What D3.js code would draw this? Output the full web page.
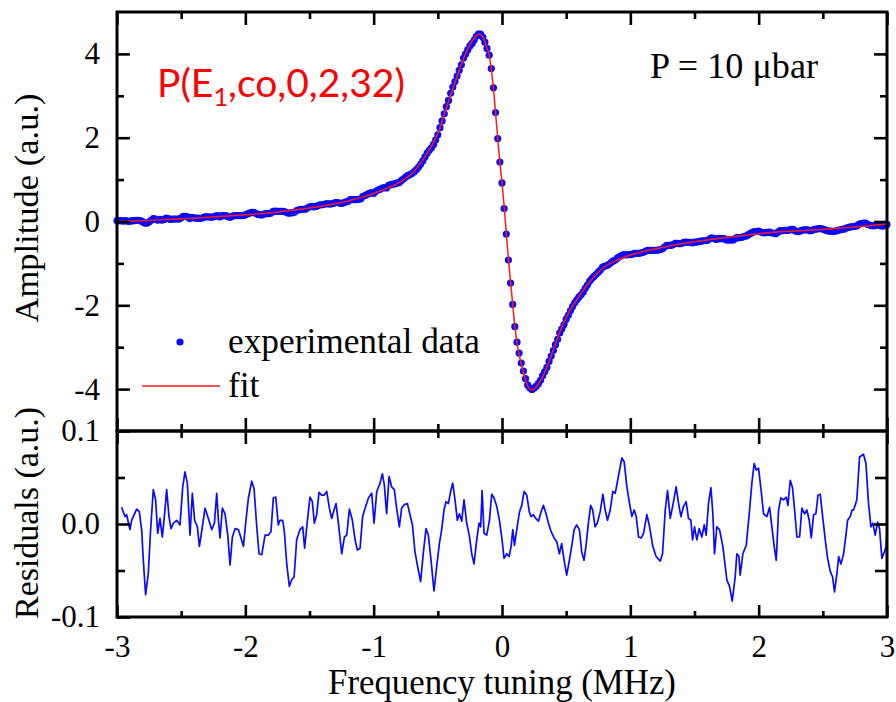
<!DOCTYPE html>
<html><head><meta charset="utf-8">
<script src="https://cdn.jsdelivr.net/npm/d3@7"></script>
<style>body{margin:0;background:#fff}svg{display:block}</style>
</head><body>
<svg id="chart" width="896" height="702"></svg>
<script>
// ---------- data ----------
const freqStart = -3, freqStep = 1 / 60;   // uniform sampling of the measured spectrum
const expAmplitude = [
 0.02,0.02,0.02,0.01,0.02,0.01,0.00,0.02,0.02,0.03,0.03,
 0.02,-0.01,-0.04,-0.04,-0.01,0.03,0.07,0.06,0.03,0.05,
 0.03,0.05,0.08,0.07,0.05,0.06,0.06,0.06,0.06,0.09,
 0.12,0.12,0.11,0.07,0.10,0.09,0.08,0.08,0.07,0.09,
 0.11,0.11,0.11,0.10,0.11,0.13,0.14,0.11,0.14,0.14,
 0.14,0.11,0.10,0.13,0.14,0.14,0.14,0.14,0.14,0.16,
 0.18,0.20,0.22,0.22,0.19,0.17,0.16,0.16,0.18,0.19,
 0.19,0.20,0.24,0.25,0.24,0.24,0.24,0.24,0.22,0.20,
 0.20,0.21,0.22,0.26,0.28,0.29,0.29,0.29,0.32,0.35,
 0.36,0.35,0.36,0.38,0.40,0.40,0.41,0.43,0.42,0.42,
 0.43,0.45,0.45,0.44,0.43,0.45,0.47,0.48,0.52,0.52,
 0.52,0.52,0.53,0.54,0.60,0.62,0.65,0.67,0.69,0.67,
 0.72,0.75,0.77,0.80,0.81,0.80,0.86,0.88,0.89,0.90,
 0.92,0.93,0.98,1.02,1.06,1.10,1.12,1.15,1.19,1.24,
 1.30,1.37,1.45,1.54,1.63,1.70,1.76,1.84,1.95,2.07,
 2.24,2.40,2.57,2.74,2.89,3.06,3.21,3.34,3.47,3.61,
 3.74,3.90,4.00,4.10,4.19,4.25,4.33,4.42,4.47,4.47,
 4.40,4.28,4.13,3.97,3.65,3.19,2.60,1.98,1.42,0.92,
 0.31,-0.30,-0.92,-1.47,-1.98,-2.51,-2.88,-3.14,-3.38,-3.57,
 -3.75,-3.90,-3.97,-4.01,-3.98,-3.93,-3.87,-3.79,-3.68,-3.58,
 -3.48,-3.34,-3.21,-3.08,-2.94,-2.81,-2.66,-2.56,-2.46,-2.33,
 -2.24,-2.13,-2.03,-1.94,-1.87,-1.80,-1.75,-1.68,-1.59,-1.51,
 -1.42,-1.36,-1.31,-1.26,-1.21,-1.16,-1.09,-1.07,-1.05,-1.02,
 -0.98,-0.94,-0.92,-0.87,-0.84,-0.81,-0.79,-0.80,-0.79,-0.79,
 -0.78,-0.76,-0.76,-0.76,-0.75,-0.74,-0.71,-0.69,-0.69,-0.69,
 -0.69,-0.69,-0.68,-0.67,-0.65,-0.61,-0.57,-0.57,-0.57,-0.55,
 -0.52,-0.52,-0.53,-0.52,-0.50,-0.49,-0.50,-0.50,-0.51,-0.49,
 -0.49,-0.48,-0.47,-0.46,-0.46,-0.45,-0.42,-0.39,-0.40,-0.43,
 -0.41,-0.41,-0.41,-0.41,-0.44,-0.44,-0.44,-0.44,-0.41,-0.38,
 -0.39,-0.38,-0.36,-0.35,-0.32,-0.29,-0.26,-0.24,-0.24,-0.23,
 -0.25,-0.27,-0.27,-0.26,-0.25,-0.27,-0.28,-0.29,-0.25,-0.22,
 -0.22,-0.21,-0.21,-0.21,-0.19,-0.19,-0.22,-0.24,-0.24,-0.21,
 -0.20,-0.20,-0.20,-0.22,-0.21,-0.19,-0.18,-0.17,-0.17,-0.18,
 -0.20,-0.22,-0.23,-0.23,-0.24,-0.23,-0.21,-0.20,-0.19,-0.18,
 -0.16,-0.14,-0.13,-0.12,-0.12,-0.10,-0.06,-0.05,-0.04,-0.04,
 -0.07,-0.09,-0.10,-0.10,-0.09,-0.08,-0.10,-0.11,-0.09,-0.07
];

const fitCurve = [
 [-3.0,0.00],[-2.8,0.02],[-2.6,0.05],[-2.4,0.08],[-2.2,0.12],[-2.0,0.16],[-1.8,0.21],
 [-1.6,0.28],[-1.4,0.37],[-1.2,0.49],[-1.1,0.57],[-1.0,0.67],[-0.9,0.79],[-0.8,0.93],
 [-0.7,1.15],[-0.6,1.55],[-0.55,1.80],[-0.5,2.10],[-0.45,2.56],[-0.4,3.02],[-0.35,3.46],
 [-0.3,3.88],[-0.25,4.22],[-0.2,4.43],[-0.18,4.47],[-0.16,4.44],[-0.14,4.35],[-0.12,4.17],
 [-0.10,3.97],[-0.08,3.55],[-0.06,2.95],[-0.04,2.22],[-0.02,1.52],[0.00,0.93],[0.02,0.25],
 [0.04,-0.55],[0.06,-1.22],[0.08,-1.87],[0.10,-2.50],[0.12,-2.96],[0.14,-3.27],[0.16,-3.53],
 [0.18,-3.76],[0.20,-3.92],[0.23,-4.02],[0.26,-3.97],[0.30,-3.80],[0.35,-3.48],[0.40,-3.06],
 [0.45,-2.64],[0.50,-2.29],[0.55,-2.02],[0.60,-1.79],[0.65,-1.57],[0.70,-1.38],[0.75,-1.21],
 [0.80,-1.08],[0.90,-0.92],[1.00,-0.80],[1.20,-0.65],[1.40,-0.53],[1.60,-0.44],[1.80,-0.36],
 [2.00,-0.29],[2.20,-0.24],[2.40,-0.21],[2.60,-0.17],[2.80,-0.12],[3.00,-0.06]
];

const residuals = [
 [-2.964,0.018],[-2.938,0.008],[-2.925,0.010],[-2.899,-0.006],[-2.886,0.004],[-2.847,0.016],
 [-2.826,0.013],[-2.808,-0.006],[-2.795,-0.039],[-2.777,-0.076],[-2.756,-0.053],[-2.738,-0.006],
 [-2.717,0.037],[-2.699,0.026],[-2.683,-0.010],[-2.665,0.006],[-2.647,-0.014],[-2.631,0.008],
 [-2.613,0.037],[-2.595,0.008],[-2.579,-0.005],[-2.561,0.001],[-2.535,0.004],[-2.509,-0.001],
 [-2.488,0.040],[-2.470,0.056],[-2.452,0.044],[-2.431,-0.012],[-2.413,0.033],[-2.395,0.004],
 [-2.374,-0.003],[-2.358,-0.024],[-2.338,-0.006],[-2.314,0.017],[-2.288,0.006],[-2.262,-0.006],
 [-2.241,0.001],[-2.223,0.033],[-2.210,0.004],[-2.197,-0.015],[-2.179,0.017],[-2.158,0.011],
 [-2.137,-0.012],[-2.119,-0.044],[-2.101,-0.014],[-2.080,-0.005],[-2.054,-0.006],[-2.036,-0.014],
 [-2.015,-0.024],[-1.995,0.004],[-1.976,0.028],[-1.950,0.046],[-1.932,0.038],[-1.911,-0.003],
 [-1.893,-0.032],[-1.872,-0.033],[-1.846,-0.012],[-1.821,-0.012],[-1.800,-0.008],[-1.782,0.028],
 [-1.763,0.029],[-1.743,-0.001],[-1.730,0.004],[-1.709,0.004],[-1.696,-0.008],[-1.678,-0.042],
 [-1.657,-0.067],[-1.639,-0.060],[-1.620,-0.057],[-1.600,-0.017],[-1.574,-0.006],[-1.553,-0.003],
 [-1.538,-0.026],[-1.517,0.003],[-1.496,0.029],[-1.478,0.024],[-1.462,0.001],[-1.444,0.010],
 [-1.426,0.034],[-1.405,0.031],[-1.387,0.031],[-1.366,0.035],[-1.345,0.017],[-1.327,0.006],
 [-1.309,0.015],[-1.293,0.022],[-1.275,0.001],[-1.249,-0.032],[-1.228,-0.014],[-1.210,-0.012],
 [-1.189,0.016],[-1.166,0.004],[-1.145,-0.017],[-1.127,-0.028],[-1.106,-0.026],[-1.086,0.008],
 [-1.067,0.017],[-1.041,0.028],[-1.015,0.033],[-0.997,0.001],[-0.976,0.035],[-0.950,0.044],
 [-0.932,0.054],[-0.917,0.042],[-0.899,0.011],[-0.880,0.051],[-0.860,0.040],[-0.839,0.037],
 [-0.821,0.017],[-0.800,-0.003],[-0.782,0.017],[-0.761,0.021],[-0.737,0.022],[-0.717,0.010],
 [-0.698,-0.001],[-0.678,-0.030],[-0.657,-0.046],[-0.634,-0.062],[-0.613,-0.031],[-0.592,-0.005],
 [-0.574,-0.012],[-0.553,-0.039],[-0.530,-0.072],[-0.509,-0.046],[-0.488,-0.021],[-0.470,-0.006],
 [-0.452,0.015],[-0.436,0.024],[-0.418,0.022],[-0.400,0.035],[-0.384,0.044],[-0.366,0.026],
 [-0.348,0.004],[-0.332,0.011],[-0.314,0.003],[-0.296,0.026],[-0.275,0.001],[-0.254,-0.013],
 [-0.236,-0.032],[-0.218,-0.043],[-0.197,-0.017],[-0.179,0.001],[-0.166,-0.003],[-0.155,0.036],
 [-0.140,-0.010],[-0.119,-0.012],[-0.098,0.004],[-0.080,0.032],[-0.062,0.028],[-0.041,0.019],
 [-0.020,0.004],[-0.002,-0.014],[0.016,-0.037],[0.037,-0.032],[0.055,-0.035],[0.071,-0.024],
 [0.084,-0.006],[0.097,-0.023],[0.115,-0.006],[0.136,0.013],[0.154,0.020],[0.172,0.035],
 [0.193,0.031],[0.213,0.013],[0.226,0.008],[0.245,0.010],[0.263,0.006],[0.284,0.003],
 [0.304,0.013],[0.323,0.020],[0.343,0.011],[0.362,0.001],[0.382,-0.008],[0.406,-0.015],
 [0.427,-0.019],[0.447,-0.032],[0.465,-0.021],[0.484,-0.039],[0.504,-0.055],[0.525,-0.039],
 [0.543,-0.024],[0.562,-0.006],[0.582,-0.001],[0.603,-0.006],[0.621,-0.030],[0.639,-0.039],
 [0.655,-0.023],[0.673,0.001],[0.691,0.020],[0.707,0.015],[0.725,-0.003],[0.743,0.001],
 [0.765,0.013],[0.786,0.032],[0.804,0.015],[0.822,0.004],[0.843,0.015],[0.864,0.035],
 [0.882,0.033],[0.900,0.046],[0.916,0.058],[0.934,0.071],[0.952,0.067],[0.973,0.040],
 [0.994,0.022],[1.012,0.008],[1.030,0.015],[1.046,0.008],[1.064,-0.014],[1.085,-0.015],
 [1.103,-0.010],[1.129,0.010],[1.150,-0.003],[1.175,-0.024],[1.201,-0.035],[1.233,-0.040],
 [1.251,-0.032],[1.272,0.015],[1.290,0.036],[1.311,0.006],[1.331,0.020],[1.357,0.040],
 [1.376,0.022],[1.394,0.008],[1.415,0.019],[1.435,0.024],[1.453,0.006],[1.472,0.004],
 [1.485,-0.017],[1.500,-0.003],[1.518,-0.017],[1.537,-0.005],[1.557,-0.014],[1.576,-0.001],
 [1.591,-0.012],[1.609,0.022],[1.628,0.039],[1.643,0.011],[1.656,-0.032],[1.674,-0.003],
 [1.695,-0.006],[1.721,-0.024],[1.752,-0.060],[1.773,-0.067],[1.794,-0.083],[1.817,-0.057],
 [1.830,-0.032],[1.846,-0.035],[1.856,-0.055],[1.877,-0.032],[1.903,-0.023],[1.926,0.010],
 [1.947,0.044],[1.965,0.065],[1.981,0.058],[1.999,0.060],[2.020,0.035],[2.038,0.011],
 [2.064,0.008],[2.085,0.018],[2.103,-0.003],[2.121,-0.024],[2.137,-0.039],[2.155,0.015],
 [2.173,0.028],[2.194,0.026],[2.215,0.029],[2.228,0.020],[2.246,0.047],[2.264,0.039],
 [2.280,0.015],[2.298,-0.014],[2.319,-0.014],[2.337,0.017],[2.358,0.011],[2.376,0.015],
 [2.394,0.004],[2.410,-0.015],[2.428,0.010],[2.446,0.011],[2.462,0.031],[2.480,0.032],
 [2.500,0.006],[2.519,-0.017],[2.537,-0.037],[2.558,-0.051],[2.576,-0.057],[2.591,-0.073],
 [2.610,-0.053],[2.623,-0.035],[2.641,-0.043],[2.662,-0.032],[2.680,-0.012],[2.693,0.004],
 [2.714,0.008],[2.727,0.015],[2.739,0.015],[2.747,0.018],[2.765,0.026],[2.786,0.072],
 [2.817,0.075],[2.836,0.065],[2.856,0.022],[2.875,-0.003],[2.890,0.001],[2.908,-0.012],
 [2.927,0.002],[2.942,-0.005],[2.960,-0.037],[2.979,-0.030],[2.994,-0.024],[3.000,-0.005]
];

const freqTicks = [-3, -2, -1, 0, 1, 2, 3];
const freqMinor = [-2.5, -1.5, -0.5, 0.5, 1.5, 2.5];
const ampTicks = [-4, -2, 0, 2, 4];
const ampMinor = [-3, -1, 1, 3];
const resTicks = [-0.1, 0.0, 0.1];
const resMinor = [-0.05, 0.05];

// ---------- layout ----------
const SERIF = "'Liberation Serif','Times New Roman',serif";
const svg = d3.select("#chart");
const x = d3.scaleLinear().domain([-3, 3]).range([117, 887]);
const yTop = d3.scaleLinear().domain([-5, 5]).range([431, 12]);
const yBot = d3.scaleLinear().domain([-0.1, 0.1]).range([617, 431]);

function axis(fn, scale, values, size, tr, fmt, pad) {
  const ax = fn(scale).tickValues(values).tickSize(-size).tickPadding(pad || 0)
    .tickFormat(fmt || (() => ""));
  const g = svg.append("g").attr("transform", tr).call(ax);
  g.select(".domain").remove();
  g.selectAll("line").attr("stroke", "#000").attr("stroke-width", 2.6);
  g.selectAll("text").attr("font-family", SERIF).attr("font-size", 31).attr("fill", "#000");
  return g;
}

// ---------- data marks ----------
const expData = expAmplitude.map((v, i) => [freqStart + i * freqStep, v]);

svg.append("g").selectAll("circle").data(expData).join("circle")
  .attr("cx", d => x(d[0])).attr("cy", d => yTop(d[1])).attr("r", 3.6)
  .attr("fill", "#0a0aff");

svg.append("path").datum(fitCurve)
  .attr("d", d3.line().x(d => x(d[0])).y(d => yTop(d[1])).curve(d3.curveMonotoneX))
  .attr("fill", "none").attr("stroke", "#ff1a1a").attr("stroke-width", 1.5);

svg.append("path").datum(residuals)
  .attr("d", d3.line().x(d => x(d[0])).y(d => yBot(d[1])))
  .attr("fill", "none").attr("stroke", "#0a0aff").attr("stroke-width", 1.7)
  .attr("stroke-linejoin", "round");

// ---------- frames ----------
svg.append("rect").attr("x", x(-3)).attr("y", yTop(5)).attr("width", x(3) - x(-3))
  .attr("height", yTop(-5) - yTop(5)).attr("fill", "none").attr("stroke", "#000").attr("stroke-width", 3);
svg.append("rect").attr("x", x(-3)).attr("y", yBot(0.1)).attr("width", x(3) - x(-3))
  .attr("height", yBot(-0.1) - yBot(0.1)).attr("fill", "none").attr("stroke", "#000").attr("stroke-width", 3);

// ---------- axes ----------
// top panel
axis(d3.axisLeft, yTop, ampTicks, 13, `translate(${x(-3)},0)`, v => String(v), 17);
axis(d3.axisLeft, yTop, ampMinor, 7, `translate(${x(-3)},0)`);
axis(d3.axisRight, yTop, ampTicks, 13, `translate(${x(3)},0)`);
axis(d3.axisRight, yTop, ampMinor, 7, `translate(${x(3)},0)`);
axis(d3.axisTop, x, freqTicks, 13, `translate(0,${yTop(5)})`);
axis(d3.axisTop, x, freqMinor, 7, `translate(0,${yTop(5)})`);
axis(d3.axisBottom, x, freqTicks, 13, `translate(0,${yTop(-5)})`);
axis(d3.axisBottom, x, freqMinor, 7, `translate(0,${yTop(-5)})`);
// bottom panel
axis(d3.axisLeft, yBot, resTicks, 13, `translate(${x(-3)},0)`, v => v.toFixed(1), 17);
axis(d3.axisLeft, yBot, resMinor, 8, `translate(${x(-3)},0)`);
axis(d3.axisRight, yBot, [0], 13, `translate(${x(3)},0)`);
axis(d3.axisRight, yBot, resMinor, 12, `translate(${x(3)},0)`);
axis(d3.axisTop, x, freqTicks, 13, `translate(0,${yBot(0.1)})`);
axis(d3.axisTop, x, freqMinor, 7, `translate(0,${yBot(0.1)})`);
axis(d3.axisBottom, x, freqTicks, 12, `translate(0,${yBot(-0.1)})`, v => String(v), 18);
axis(d3.axisBottom, x, freqMinor, 6, `translate(0,${yBot(-0.1)})`);

// ---------- titles ----------
function fitWidth(sel, w) {
  const cur = sel.node().getComputedTextLength();
  const fs = parseFloat(sel.attr("font-size"));
  sel.attr("font-size", (fs * w / cur).toFixed(2));
}
const xt = svg.append("text").attr("x", 502).attr("y", 694).attr("text-anchor", "middle")
  .attr("font-family", SERIF).attr("font-size", 34).attr("fill", "#000")
  .text("Frequency tuning (MHz)");
fitWidth(xt, 348);
const yt1 = svg.append("text").attr("transform", "translate(38,208) rotate(-90)")
  .attr("text-anchor", "middle").attr("font-family", SERIF).attr("font-size", 34).attr("fill", "#000")
  .text("Amplitude (a.u.)");
fitWidth(yt1, 229);
const yt2 = svg.append("text").attr("transform", "translate(38,513) rotate(-90)")
  .attr("text-anchor", "middle").attr("font-family", SERIF).attr("font-size", 34).attr("fill", "#000")
  .text("Residuals (a.u.)");
fitWidth(yt2, 212);

// annotations
const ann = svg.append("text").attr("x", 157).attr("y", 97)
  .attr("font-family", "Lato, 'Open Sans', sans-serif").attr("font-size", 34).attr("fill", "#ff0000");
ann.append("tspan").text("P(E");
ann.append("tspan").attr("font-size", "0.65em").attr("dy", 9).text("1");
ann.append("tspan").attr("dy", -9).text(",co,0,2,32)");
fitWidth(ann, 248);

const pt = svg.append("text").attr("x", 650).attr("y", 78)
  .attr("font-family", SERIF).attr("font-size", 34).attr("fill", "#000")
  .text("P = 10 \u03bcbar");
fitWidth(pt, 168);

// legend
svg.append("circle").attr("cx", 180).attr("cy", 342).attr("r", 3.6).attr("fill", "#0a0aff");
const lt1 = svg.append("text").attr("x", 228).attr("y", 353)
  .attr("font-family", SERIF).attr("font-size", 34).attr("fill", "#000").text("experimental data");
fitWidth(lt1, 252);
svg.append("line").attr("x1", 142).attr("x2", 220).attr("y1", 386).attr("y2", 386)
  .attr("stroke", "#ff1a1a").attr("stroke-width", 1.5);
svg.append("text").attr("x", 228).attr("y", 397)
  .attr("font-family", SERIF).attr("font-size", lt1.attr("font-size")).attr("fill", "#000").text("fit");
</script>
</body></html>
